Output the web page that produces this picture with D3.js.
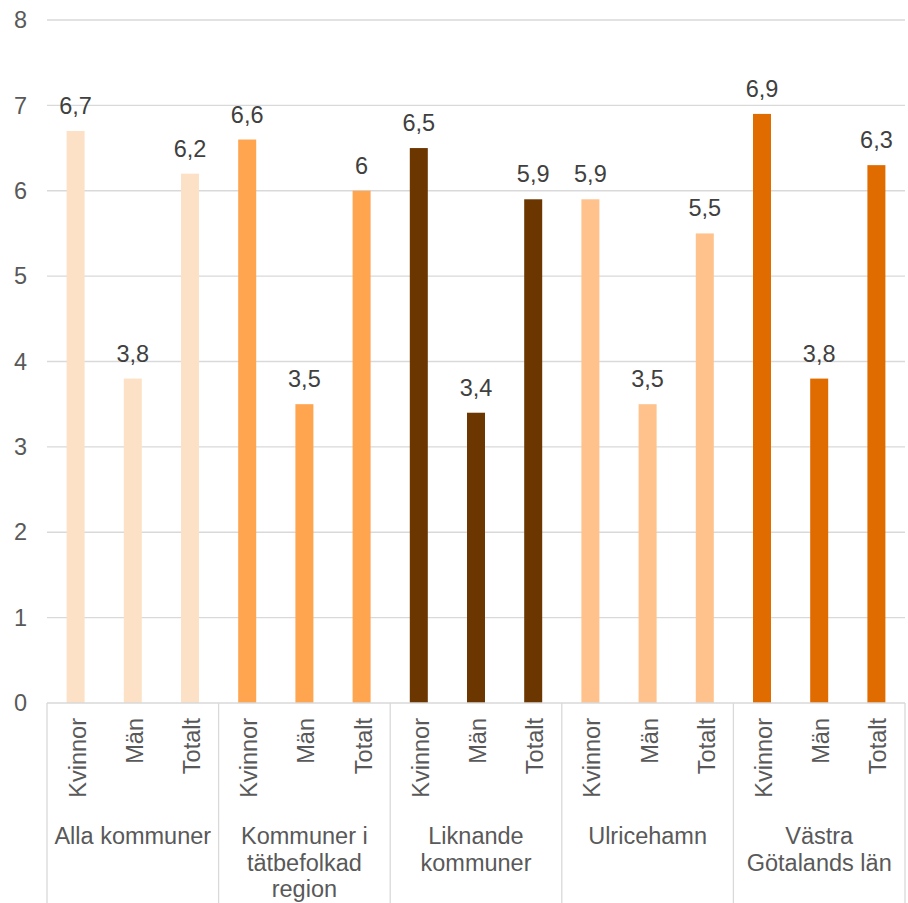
<!DOCTYPE html>
<html lang="sv">
<head>
  <meta charset="UTF-8">
  <script src="https://d3js.org/d3.v7.min.js"></script>
  <style>
    body { margin: 0; padding: 0; background: #fff; }
    text { font-family: "Liberation Sans", Arial, sans-serif; }
  </style>
</head>
<body>
  <div id="chart"></div>
  <script>
    // data
    const groups = ["Alla kommuner", "Kommuner i tätbefolkad region", "Liknande kommuner", "Ulricehamn", "Västra Götalands län"];
    const groupLines = [["Alla kommuner"], ["Kommuner i", "tätbefolkad", "region"], ["Liknande", "kommuner"], ["Ulricehamn"], ["Västra", "Götalands län"]];
    const subs = ["Kvinnor", "Män", "Totalt"];
    const values = [
      [6.7, 3.8, 6.2],
      [6.6, 3.5, 6.0],
      [6.5, 3.4, 5.9],
      [5.9, 3.5, 5.5],
      [6.9, 3.8, 6.3]
    ];
    const colors = ["#fde1c6", "#ffa550", "#6c3600", "#ffc28c", "#e06c00"];
    const yTicks = [0, 1, 2, 3, 4, 5, 6, 7, 8];

    const width = 908, height = 903;
    const plotL = 47, plotR = 905, plotT = 20, plotB = 703;
    const fs = 23.5;

    const svg = d3.select("#chart").append("svg")
      .attr("width", width).attr("height", height);

    const y = d3.scaleLinear().domain([0, 8]).range([plotB, plotT]);
    const xg = d3.scaleBand().domain(groups).range([plotL, plotR]);
    const xs = d3.scaleBand().domain(subs).range([0, xg.bandwidth()]);

    // gridlines
    svg.append("g").selectAll("line").data(yTicks.filter(d => d > 0)).enter()
      .append("line")
      .attr("x1", plotL).attr("x2", plotR)
      .attr("y1", d => y(d)).attr("y2", d => y(d))
      .attr("stroke", "#d9d9d9").attr("stroke-width", 1.3);

    // y labels
    svg.append("g").selectAll("text").data(yTicks).enter()
      .append("text")
      .attr("x", 27).attr("y", d => y(d))
      .attr("dy", "0.35em")
      .attr("text-anchor", "end")
      .attr("fill", "#595959")
      .attr("font-size", fs)
      .text(d => d);

    // bars
    const g = svg.append("g").selectAll("g").data(groups).enter()
      .append("g")
      .attr("transform", d => `translate(${xg(d)},0)`);

    const barW = 18;
    g.selectAll("rect").data((d, i) => values[i].map((v, j) => ({ v, sub: subs[j], gi: i }))).enter()
      .append("rect")
      .attr("x", d => xs(d.sub) + xs.bandwidth() / 2 - barW / 2)
      .attr("width", barW)
      .attr("y", d => y(d.v))
      .attr("height", d => y(0) - y(d.v))
      .attr("fill", d => colors[d.gi]);

    g.selectAll("text.val").data((d, i) => values[i].map((v, j) => ({ v, sub: subs[j] }))).enter()
      .append("text")
      .attr("class", "val")
      .attr("x", d => xs(d.sub) + xs.bandwidth() / 2)
      .attr("y", d => y(d.v) - 17)
      .attr("text-anchor", "middle")
      .attr("fill", "#404040")
      .attr("font-size", fs)
      .text(d => String(d.v).replace(".", ","));

    // axis line + group dividers
    svg.append("line")
      .attr("x1", plotL).attr("x2", plotR)
      .attr("y1", plotB).attr("y2", plotB)
      .attr("stroke", "#d9d9d9").attr("stroke-width", 1.3);

    const dividers = groups.map(d => xg(d)).concat([plotR]);
    svg.append("g").selectAll("line").data(dividers).enter()
      .append("line")
      .attr("x1", d => d).attr("x2", d => d)
      .attr("y1", plotB).attr("y2", height)
      .attr("stroke", "#d9d9d9").attr("stroke-width", 1.3);

    // sub labels (rotated)
    g.selectAll("text.sub").data(subs).enter()
      .append("text")
      .attr("class", "sub")
      .attr("transform", d => `translate(${xs(d) + xs.bandwidth() / 2 + 10},718) rotate(-90)`)
      .attr("text-anchor", "end")
      .attr("fill", "#595959")
      .attr("font-size", fs)
      .text(d => d);

    // group labels
    g.append("text")
      .attr("x", xg.bandwidth() / 2)
      .attr("y", 844)
      .attr("text-anchor", "middle")
      .attr("fill", "#595959")
      .attr("font-size", fs)
      .selectAll("tspan").data((d, i) => groupLines[i]).enter()
      .append("tspan")
      .attr("x", xg.bandwidth() / 2)
      .attr("dy", (d, i) => i === 0 ? 0 : 26.5)
      .text(d => d);
  </script>
</body>
</html>
